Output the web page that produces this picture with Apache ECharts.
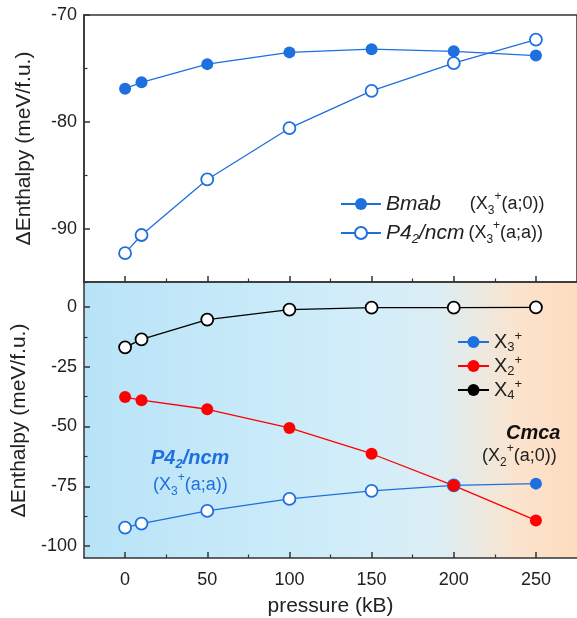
<!DOCTYPE html>
<html><head><meta charset="utf-8">
<script src="https://cdn.jsdelivr.net/npm/echarts@6/dist/echarts.min.js"></script>
<style>html,body{margin:0;padding:0;background:#fff}#c{width:577px;height:618px}</style>
</head><body><div id="c"></div>
<script>
// ---- data ----
const pressure = [0, 10, 50, 100, 150, 200, 250];
const bmab   = [-76.9, -76.3, -74.6, -73.5, -73.2, -73.4, -73.8];
const p42ncm = [-92.3, -90.6, -85.4, -80.6, -77.1, -74.5, -72.3];
const x3 = [-92.3, -90.6, -85.3, -80.3, -76.9, -74.6, -73.9];
const x3Filled = [false, false, false, false, false, false, true];
const x2 = [-37.7, -39.0, -42.8, -50.6, -61.4, -74.7, -89.3];
const x4 = [-16.9, -13.6, -5.3, -1.1, -0.3, -0.3, -0.2];
const xTicks = [0, 50, 100, 150, 200, 250];
const xMinorTicks = [25, 75, 125, 175, 225];
const topYTicks = [-90, -80, -70];
const topYMinor = [-95, -85, -75];
const botYTicks = [-100, -75, -50, -25, 0];
const botYMinor = [-87.5, -62.5, -37.5, -12.5];

const BLUE = '#1e6fdf', RED = '#ff0000', BLACK = '#000000', AX = '#333333';
const FONT = 'Liberation Sans, Arial, Helvetica, sans-serif';

const chart = echarts.init(document.getElementById('c'), null, {renderer: 'canvas'});
const pairs = arr => pressure.map((p, i) => [p, arr[i]]);

function mainX(gi, showLabels) {
  return {
    type: 'value', gridIndex: gi, min: -25, max: 275,
    axisLine: {show: true, onZero: false, lineStyle: {color: AX, width: 1.5}},
    axisTick: {show: true, inside: true, length: 6, customValues: xTicks, lineStyle: {color: AX, width: 1.5}},
    axisLabel: {show: showLabels, customValues: xTicks, margin: 13, color: '#222', fontSize: 18, fontFamily: FONT},
    splitLine: {show: false},
    name: showLabels ? 'pressure (kB)' : '', nameLocation: 'middle', nameGap: 38,
    nameTextStyle: {fontSize: 21, color: '#222', fontFamily: FONT}
  };
}
function minorX(gi) {
  return {
    type: 'value', gridIndex: gi, min: -25, max: 275, position: 'bottom',
    axisLine: {show: false, onZero: false},
    axisTick: {show: true, inside: true, length: 3.5, customValues: xMinorTicks, lineStyle: {color: AX, width: 1.2}},
    axisLabel: {show: false, customValues: xMinorTicks}, splitLine: {show: false}
  };
}
function mainY(gi, min, max, ticks) {
  return {
    type: 'value', gridIndex: gi, min: min, max: max,
    axisLine: {show: true, onZero: false, lineStyle: {color: AX, width: 1.5}},
    axisTick: {show: true, inside: true, length: 6, customValues: ticks, lineStyle: {color: AX, width: 1.5}},
    axisLabel: {show: true, customValues: ticks, margin: 7, color: '#222', fontSize: 18, fontFamily: FONT},
    splitLine: {show: false},
    name: 'ΔEnthalpy (meV/f.u.)', nameLocation: 'middle', nameGap: 49, nameRotate: 90,
    nameTextStyle: {fontSize: 21, color: '#222', fontFamily: FONT}
  };
}
function minorY(gi, min, max, ticks) {
  return {
    type: 'value', gridIndex: gi, min: min, max: max, position: 'left',
    axisLine: {show: false, onZero: false},
    axisTick: {show: true, inside: true, length: 3.5, customValues: ticks, lineStyle: {color: AX, width: 1.2}},
    axisLabel: {show: false, customValues: ticks}, splitLine: {show: false}
  };
}
const openStyle = c => ({color: '#ffffff', borderColor: c, borderWidth: 1.8});

const richLegend = {
  i: {fontStyle: 'italic', fontSize: 21, fontFamily: FONT, color: '#222', lineHeight: 26},
  gapA: {width: 29, lineHeight: 26},
  gapB: {width: 4, lineHeight: 26},
  t: {fontSize: 18, fontFamily: FONT, color: '#222', lineHeight: 26},
  sub: {fontSize: 12, fontFamily: FONT, color: '#222', verticalAlign: 'bottom', lineHeight: 26},
  sup: {fontSize: 12, fontFamily: FONT, color: '#222', verticalAlign: 'top', lineHeight: 26},
  si: {fontStyle: 'italic', fontSize: 13, fontFamily: FONT, color: '#222', verticalAlign: 'bottom', lineHeight: 26},
  X: {fontSize: 20, fontFamily: FONT, color: '#222', lineHeight: 24},
  xs: {fontSize: 13, fontFamily: FONT, color: '#222', verticalAlign: 'bottom', lineHeight: 24},
  xp: {fontSize: 13, fontFamily: FONT, color: '#222', verticalAlign: 'top', lineHeight: 24}
};
const legendText = {
  'Bmab': '{i|Bmab}{gapA|}{t|(X}{sub|3}{sup|+}{t|(a;0))}',
  'P42/ncm': '{i|P4}{si|2}{i|/ncm}{gapB|}{t|(X}{sub|3}{sup|+}{t|(a;a))}',
  'X3+': '{X|X}{xs|3}{xp|+}',
  'X2+': '{X|X}{xs|2}{xp|+}',
  'X4+': '{X|X}{xs|4}{xp|+}'
};

const option = {
  animation: false,
  backgroundColor: '#ffffff',
  grid: [
    {left: 84, right: -2, top: 15, height: 267, show: true, borderColor: AX, borderWidth: 1.5, backgroundColor: 'transparent'},
    {left: 84, right: -2, top: 283, bottom: 60, show: true, borderWidth: 0,
     backgroundColor: {type: 'linear', x: 0, y: 0, x2: 1, y2: 0, colorStops: [
       {offset: 0, color: '#b8e3f7'},
       {offset: 0.35, color: '#c8eaf9'},
       {offset: 0.6, color: '#d4eef9'},
       {offset: 0.72, color: '#dcedf3'},
       {offset: 0.8, color: '#ebe9e1'},
       {offset: 0.88, color: '#fbe3cd'},
       {offset: 1, color: '#fedcc0'}]}}
  ],
  xAxis: [mainX(0, false), minorX(0), mainX(1, true), minorX(1)],
  yAxis: [mainY(0, -95, -70, topYTicks), minorY(0, -95, -70, topYMinor),
          mainY(1, -105, 10, botYTicks), minorY(1, -105, 10, botYMinor)],
  legend: [
    {data: ['Bmab', 'P42/ncm'], orient: 'vertical', left: 335, top: 186, itemWidth: 40, itemHeight: 15, itemGap: 3,
     formatter: n => legendText[n], textStyle: {rich: richLegend}, selectedMode: false},
    {data: ['X3+', 'X2+', 'X4+'], orient: 'vertical', left: 452, top: 325, itemWidth: 31, itemHeight: 15, itemGap: 0,
     formatter: n => legendText[n], textStyle: {rich: richLegend}, selectedMode: false}
  ],
  series: [
    {name: 'Bmab', type: 'line', xAxisIndex: 0, yAxisIndex: 0, data: pairs(bmab), symbol: 'circle', symbolSize: 12,
     lineStyle: {color: BLUE, width: 1.3}, itemStyle: {color: BLUE, borderColor: BLUE, borderWidth: 0}, silent: true},
    {name: 'P42/ncm', type: 'line', xAxisIndex: 0, yAxisIndex: 0, data: pairs(p42ncm), symbol: 'circle', symbolSize: 12,
     lineStyle: {color: BLUE, width: 1.3}, itemStyle: openStyle(BLUE), silent: true},
    {name: 'X3+', type: 'line', xAxisIndex: 2, yAxisIndex: 2, symbol: 'circle', symbolSize: 12,
     data: pressure.map((p, i) => x3Filled[i] ? {value: [p, x3[i]]} : {value: [p, x3[i]], itemStyle: openStyle(BLUE)}),
     lineStyle: {color: BLUE, width: 1.3}, itemStyle: {color: BLUE, borderWidth: 0}, silent: true},
    {name: 'X2+', type: 'line', xAxisIndex: 2, yAxisIndex: 2, data: pairs(x2), symbol: 'circle', symbolSize: 12,
     lineStyle: {color: RED, width: 1.3}, itemStyle: {color: RED, borderWidth: 0}, silent: true},
    {name: 'X4+', type: 'line', xAxisIndex: 2, yAxisIndex: 2, symbol: 'circle', symbolSize: 12,
     data: pressure.map((p, i) => ({value: [p, x4[i]], itemStyle: openStyle(BLACK)})),
     lineStyle: {color: BLACK, width: 1.3}, itemStyle: {color: BLACK, borderWidth: 0}, silent: true}
  ],
  graphic: [
    {type: 'text', left: 151, top: 448, silent: true, style: {
      text: '{b|P4}{bs|2}{b|/ncm}', rich: {
        b: {fontSize: 20, fontWeight: 'bold', fontStyle: 'italic', fill: BLUE, fontFamily: FONT, lineHeight: 26},
        bs: {fontSize: 13, fontWeight: 'bold', fontStyle: 'italic', fill: BLUE, fontFamily: FONT, verticalAlign: 'bottom', lineHeight: 26}}}},
    {type: 'text', left: 153, top: 472, silent: true, style: {
      text: '{t|(X}{s|3}{p|+}{t|(a;a))}', rich: {
        t: {fontSize: 18, fill: BLUE, fontFamily: FONT, lineHeight: 26},
        s: {fontSize: 12, fill: BLUE, fontFamily: FONT, verticalAlign: 'bottom', lineHeight: 26},
        p: {fontSize: 12, fill: BLUE, fontFamily: FONT, verticalAlign: 'top', lineHeight: 26}}}},
    {type: 'text', left: 506, top: 423, silent: true, style: {
      text: 'Cmca', fontSize: 20, fontWeight: 'bold', fontStyle: 'italic', fill: '#111', fontFamily: FONT}},
    {type: 'text', left: 482, top: 443, silent: true, style: {
      text: '{t|(X}{s|2}{p|+}{t|(a;0))}', rich: {
        t: {fontSize: 18, fill: '#222', fontFamily: FONT, lineHeight: 26},
        s: {fontSize: 12, fill: '#222', fontFamily: FONT, verticalAlign: 'bottom', lineHeight: 26},
        p: {fontSize: 12, fill: '#222', fontFamily: FONT, verticalAlign: 'top', lineHeight: 26}}}}
  ]
};
chart.setOption(option);
</script>
</body></html>
